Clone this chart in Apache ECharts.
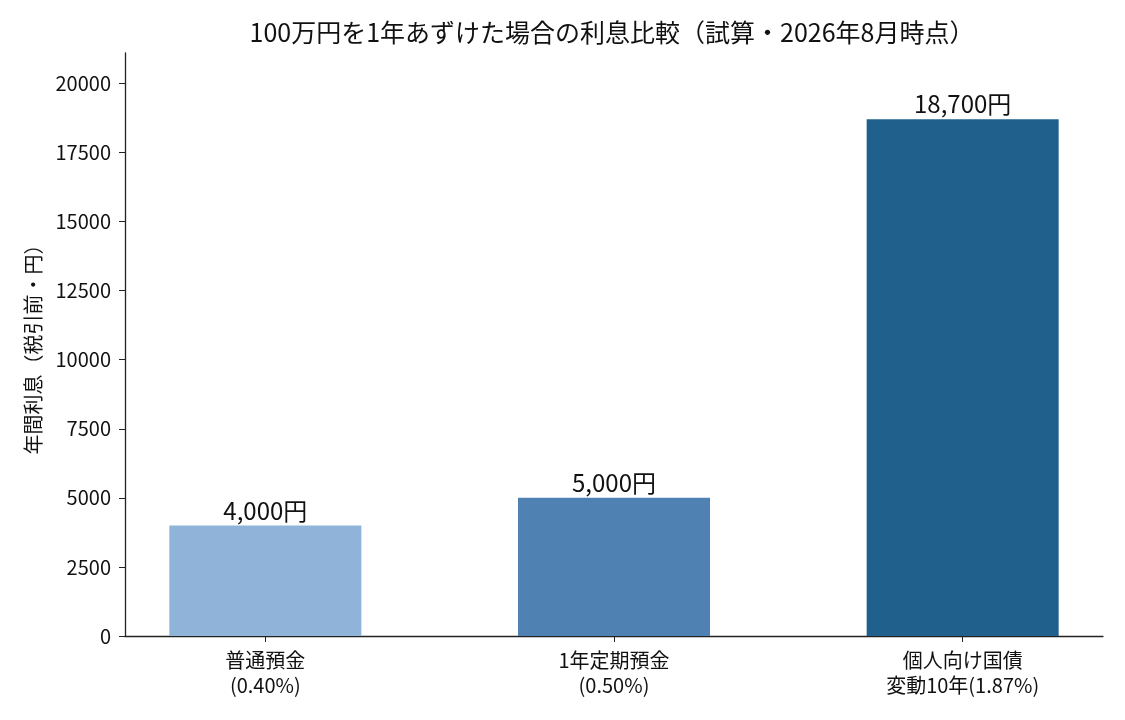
<!DOCTYPE html>
<html>
<head>
<meta charset="utf-8">
<script src="https://cdn.jsdelivr.net/npm/echarts@6/dist/echarts.min.js"></script>
<style>
  html, body { margin: 0; padding: 0; background: #fff; }
  .main { width: 1125px; height: 720px; }
</style>
</head>
<body>
<div class="main" id="main"></div>
<script>
var categories = ['普通預金\n(0.40%)', '1年定期預金\n(0.50%)', '個人向け国債\n変動10年(1.87%)'];
var interestValues = [4000, 5000, 18700];
var barColors = ['#8fb3d9', '#4f81b3', '#20608c'];
var yTicks = [0, 2500, 5000, 7500, 10000, 12500, 15000, 17500, 20000];

var font = '"Noto Sans CJK JP", "Noto Sans", sans-serif';

var myChart = echarts.init(document.getElementById('main'));

var barData = interestValues.map(function (v, i) {
  return { value: [i, v], itemStyle: { color: barColors[i] } };
});

var option = {
  animation: false,
  title: {
    text: '100万円を1年あずけた場合の利息比較（試算・2026年8月時点）',
    left: 607,
    textAlign: 'center',
    top: 15,
    textStyle: { fontFamily: font, fontSize: 25, fontWeight: 'normal', color: '#111' }
  },
  grid: { left: 125, right: 22, top: 53, bottom: 84 },
  xAxis: {
    type: 'value',
    min: -0.4025,
    max: 2.4025,
    splitLine: { show: false },
    axisLine: { show: true, onZero: false, lineStyle: { color: '#222', width: 1.3 } },
    axisTick: { show: true, customValues: [0, 1, 2], length: 6, lineStyle: { color: '#222' } },
    axisLabel: {
      customValues: [0, 1, 2],
      formatter: function (v) { return categories[Math.round(v)]; },
      fontFamily: font, fontSize: 20, color: '#111', lineHeight: 25, margin: 12
    }
  },
  yAxis: {
    type: 'value',
    min: 0,
    max: 21100,
    name: '年間利息（税引前・円）',
    nameLocation: 'middle',
    nameGap: 82,
    nameTextStyle: { fontFamily: font, fontSize: 20, color: '#111' },
    splitLine: { show: false },
    axisLine: { show: true, onZero: false, lineStyle: { color: '#222', width: 1.3 } },
    axisTick: { show: true, customValues: yTicks, length: 6, lineStyle: { color: '#222' } },
    axisLabel: {
      customValues: yTicks,
      formatter: function (v) { return String(v); },
      fontFamily: font, fontSize: 20, color: '#111', margin: 14
    }
  },
  series: [{
    type: 'bar',
    data: barData,
    barWidth: 192,
    label: {
      show: true,
      position: 'top',
      distance: 3,
      fontFamily: font,
      fontSize: 24,
      color: '#111',
      formatter: function (p) { return p.value[1].toLocaleString('en-US') + '円'; }
    }
  }]
};
myChart.setOption(option);
</script>
</body>
</html>
